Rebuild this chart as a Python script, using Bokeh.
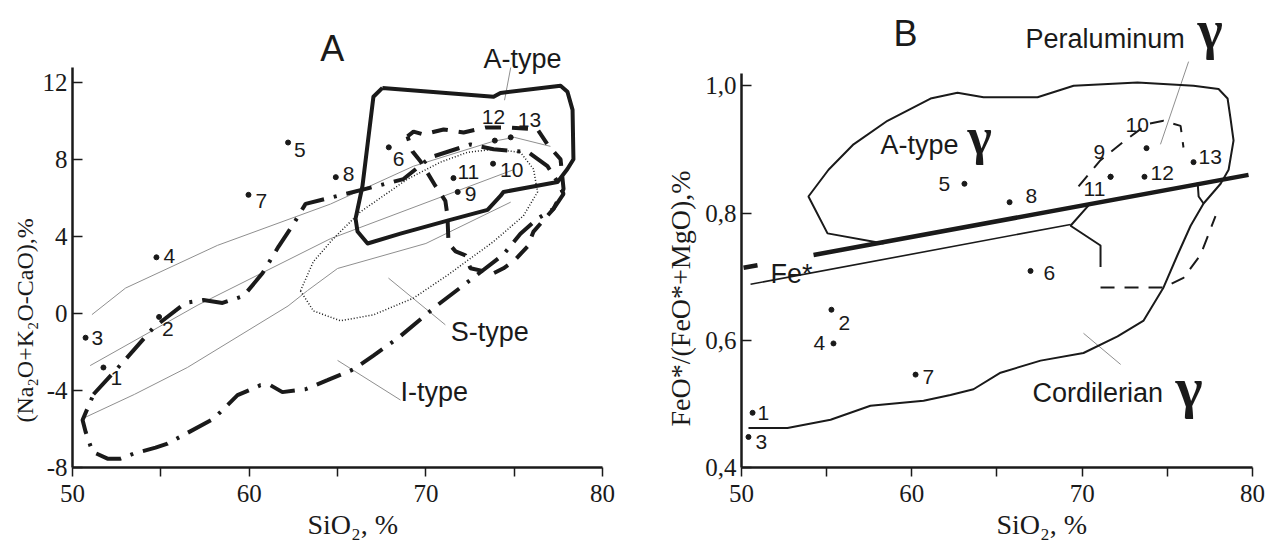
from bokeh.plotting import figure
from bokeh.models import Range1d, FixedTicker, CustomJSTickFormatter, Title
from bokeh.layouts import row
from bokeh.embed import file_html
from bokeh.resources import INLINE
from bokeh.core.properties import value

NAN = float("nan")
INK = "#1a1a1a"
GREY = "#8f8f8f"
SERIF = "Liberation Serif"
SANS = "Liberation Sans"

# ---------------- Panel A data: SiO2 vs (Na2O+K2O-CaO) ----------------
a_id = [str(i) for i in range(1, 14)]
a_sio2 = [51.75, 54.9, 50.74, 54.75, 62.2, 67.9, 59.96, 64.9, 71.8, 73.8, 71.56, 73.9, 74.8]
a_alk = [-2.8, -0.17, -1.25, 2.93, 8.9, 8.65, 6.18, 7.1, 6.33, 7.8, 7.05, 9.0, 9.17]
a_dx = [7, 3, 6, 7, 6, 4, 7, 7, 7, 7, 4, -13, 7]
a_dy = [10, 12, 0, -1, 7, 12, 6, -3, 2, 6, -6, -24, -17]

# A-type field (thick solid)
atype_x = [67.54, 73.83, 74.22, 77.62, 78.01, 78.3, 78.35, 78.01, 77.45, 74.39, 74.22, 73.49,
           71.22, 68.56, 66.7, 66.13, 66.02, 66.41, 67.03, 67.54]
atype_y = [11.74, 11.28, 11.48, 11.85, 11.54, 10.6, 8.03, 7.52, 6.85, 6.33, 6.12, 5.40,
           4.84, 4.16, 3.65, 4.27, 4.94, 6.64, 11.28, 11.74]
# thick dashed field
dash_x = [68.96, 69.3, 69.86, 71.0, 72.13, 73.37, 74.79, 76.32, 76.88, 77.62, 77.79, 77.22, 76.6,
          76.09, 75.75, 74.96, 74.39, 73.83, 72.52, 72.24, 71.68, 71.28, 71.22, 71.1, 70.54,
          69.69, 69.24, 68.96]
dash_y = [9.22, 9.47, 9.32, 9.58, 9.42, 9.68, 9.68, 9.58, 8.8, 8.03, 6.48, 5.45, 4.8,
          4.27, 3.49, 2.72, 2.36, 2.1, 2.36, 3.03, 3.24, 3.65, 5.09, 5.87, 6.64,
          7.93, 8.44, 9.22]
# I-type field (thick dash-dot)
itype_x = [51.19, 53.0, 54.58, 56.39, 57.41, 58.49, 59.68, 60.75, 61.66, 62.45, 63.19, 67.03,
           68.73, 70.26, 72.52, 73.83, 75.81, 76.88, 77.45, 77.79, 77.22, 76.32, 75.35, 74.39,
           72.13, 70.66, 68.45, 67.03, 65.9, 64.43, 63.19, 61.88, 61.2, 60.64, 59.34, 57.98,
           55.38, 54.7, 53.45, 52.72, 51.98, 51.13, 50.74, 50.57, 51.19]
itype_y = [-4.19, -2.38, -0.73, 0.56, 0.71, 0.56, 0.92, 2.1, 3.49, 4.58, 5.71, 6.59,
           7.0, 8.13, 8.8, 8.55, 8.39, 7.67, 6.85, 6.23, 5.45, 4.94, 4.16, 3.08,
           1.48, 0.45, -1.25, -2.18, -2.9, -3.46, -3.93, -4.08, -3.72, -3.72, -4.24, -5.47,
           -6.76, -6.97, -7.28, -7.54, -7.54, -7.18, -6.14, -5.53, -4.19]
# S-type field (dotted)
stype_x = [62.9, 63.64, 65.17, 67.03, 69.3, 71.22, 73.83, 75.52, 76.32, 76.09, 75.35, 73.83,
           72.35, 70.83, 68.96, 66.3, 64.77, 63.64, 62.9]
stype_y = [1.18, 0.14, -0.37, -0.06, 0.81, 2.0, 3.75, 5.09, 6.33, 7.52, 8.39, 8.55,
           8.39, 7.88, 7.0, 5.3, 3.91, 2.72, 1.18]
# thin grey trend lines
g1_x = [51.1, 53.0, 58.2, 64.6, 69.3, 73.8, 75.0, 77.05]
g1_y = [-0.05, 1.33, 3.55, 5.7, 7.67, 8.96, 9.17, 8.7]
g2_x = [51.0, 57.1, 64.6, 75.0]
g2_y = [-2.7, 0.45, 3.9, 7.5]
g3_x = [50.7, 53.5, 56.5, 62.2, 63.3, 65.0, 70.0, 74.8]
g3_y = [-5.4, -4.2, -2.8, 0.4, 1.2, 2.35, 3.65, 5.8]
# leader lines
a_lead_xs = [[74.8, 74.45], [67.88, 71.1], [65.0, 68.56]]
a_lead_ys = [[12.8, 11.1], [1.85, -0.58], [-2.43, -4.49]]
a_names = ["A-type", "S-type", "I-type"]
a_names_x = [73.26, 71.4, 68.56]
a_names_y = [13.24, -0.94, -4.08]

# ---------------- Panel B data: SiO2 vs FeO*/(FeO*+MgO) ----------------
b_id = [str(i) for i in range(1, 14)]
b_sio2 = [50.65, 55.28, 50.41, 55.4, 63.09, 66.97, 60.22, 65.74, 71.67, 73.78, 71.67, 73.66, 76.54]
b_fe = [0.486, 0.648, 0.448, 0.595, 0.846, 0.709, 0.546, 0.817, 0.857, 0.902, 0.857, 0.857, 0.88]
b_dx = [5, 7, 7, -20, -26, 13, 7, 16, -17, -21, -27, 6, 5]
b_dy = [0, 13, 5, 0, 0, 2, 2, -6, -25, -23, 12, -4, -5]

outline_x = [50.41, 52.7, 55.23, 57.57, 60.69, 62.27, 63.62, 65.21, 67.56, 70.08, 72.08, 73.61,
             74.78, 75.6, 76.37, 77.13, 78.13, 78.6, 78.89, 78.71, 78.54, 78.01, 76.54, 73.25,
             69.5, 67.38, 64.21, 62.68, 61.1, 58.57, 56.58, 55.11, 53.93, 55.05, 58.34]
outline_y = [0.462, 0.462, 0.475, 0.497, 0.505, 0.514, 0.523, 0.549, 0.568, 0.58, 0.606, 0.631,
             0.683, 0.734, 0.78, 0.815, 0.846, 0.868, 0.914, 0.949, 0.98, 0.995, 1.0, 1.005,
             1.0, 0.982, 0.982, 0.989, 0.98, 0.945, 0.908, 0.868, 0.826, 0.768, 0.752]
fe_thick_x = [50.12, 50.94, NAN, 54.23, 79.77]
fe_thick_y = [0.714, 0.718, NAN, 0.734, 0.86]
fe_thin_x = [50.53, 69.32]
fe_thin_y = [0.688, 0.782]
inner_xs = [[70.38, 69.32, 71.08, 71.08], [76.78, 76.84, 77.13]]
inner_ys = [[0.812, 0.78, 0.749, 0.715], [0.848, 0.826, 0.815]]
per_dash_xs = [[71.08, 74.78, 75.95, 76.95, 77.83], [69.79, 71.08, 72.37, 73.84, 74.78, 75.78, 75.95]]
per_dash_ys = [[0.683, 0.683, 0.698, 0.734, 0.795], [0.842, 0.883, 0.911, 0.94, 0.945, 0.937, 0.903]]
b_lead_xs = [[76.25, 74.6], [70.08, 72.26]]
b_lead_ys = [[1.038, 0.908], [0.611, 0.562]]
b_names = ["A-type", "Peraluminum", "Cordilerian", "Fe*"]
b_names_x = [58.16, 66.68, 67.09, 51.7]
b_names_y = [0.907, 1.0735, 0.517, 0.704]
gamma_x = [63.27, 76.78, 75.48]
gamma_y = [0.92, 1.088, 0.525]
gamma_size = ["52px", "54px", "58px"]


def style(p, xbounds, ybounds, yticks, yfmt):
    p.title.visible = False
    p.xgrid.visible = False
    p.ygrid.visible = False
    p.outline_line_color = None
    p.background_fill_color = "white"
    p.border_fill_color = "white"
    xa = p.xaxis[0]
    xa.ticker = FixedTicker(ticks=[50, 55, 60, 65, 70, 75, 80])
    xa.formatter = CustomJSTickFormatter(code="return (Math.round(tick) % 10 == 0) ? tick.toFixed(0) : '';")
    xa.bounds = xbounds
    xa.major_tick_in = 0
    xa.major_tick_out = 9
    xa.minor_tick_line_color = None
    ya = p.yaxis[0]
    ya.ticker = FixedTicker(ticks=yticks)
    ya.formatter = CustomJSTickFormatter(code=yfmt)
    ya.bounds = ybounds
    ya.major_tick_in = 10
    ya.major_tick_out = 0
    ya.minor_tick_line_color = None
    for ax in (xa, ya):
        ax.axis_line_width = 2.5
        ax.axis_line_color = INK
        ax.major_tick_line_width = 1.5
        ax.major_tick_line_color = INK
        ax.major_label_text_font = SERIF
        ax.major_label_text_font_size = "25px"
        ax.major_label_text_color = INK
    xa.major_label_standoff = 8
    ya.major_label_standoff = 5


def axis_title(p, text, side, offset, standoff, size="28px"):
    p.add_layout(Title(text=text, align="left", offset=offset, standoff=standoff,
                       text_font=SERIF, text_font_size=size, text_font_style="normal",
                       text_color=INK), side)


# ---------------- Panel A ----------------
pa = figure(width=620, height=541, x_range=Range1d(50, 80.73), y_range=Range1d(-8, 15.87),
            output_backend="svg", toolbar_location=None,
            min_border_left=72, min_border_right=5, min_border_top=8, min_border_bottom=70)
style(pa, (50, 80), (-8, 12.8), [-8, -4, 0, 4, 8, 12], "return tick.toFixed(0);")

pa.line(g1_x, g1_y, line_color=GREY, line_width=1)
pa.line(g2_x, g2_y, line_color=GREY, line_width=1)
pa.line(g3_x, g3_y, line_color=GREY, line_width=1)
pa.multi_line(a_lead_xs, a_lead_ys, line_color=GREY, line_width=1)
pa.line(stype_x, stype_y, line_color=INK, line_width=1.5, line_dash="1 2")
pa.line(itype_x, itype_y, line_color=INK, line_width=4, line_dash="26 10 3 10")
pa.line(dash_x, dash_y, line_color=INK, line_width=4, line_dash="16 11")
pa.line(atype_x, atype_y, line_color=INK, line_width=4, line_join="round")
pa.scatter(a_sio2, a_alk, size=5, color=INK)
pa.text(a_sio2, a_alk, text=a_id, x_offset=a_dx, y_offset=a_dy, text_align="left",
        text_baseline="middle", text_font=value(SANS), text_font_size="21px", text_color=INK)
pa.text(a_names_x, a_names_y, text=a_names, text_align="left", text_baseline="middle",
        text_font=value(SANS), text_font_size="27px", text_color=INK)
pa.text([64.7], [13.8], text=["A"], text_align="center", text_baseline="middle",
        text_font=value(SANS), text_font_size="36px", text_color=INK)
axis_title(pa, "SiO\u2082, %", "below", 235, 4)
axis_title(pa, "(Na\u2082O+K\u2082O-CaO),%", "left", 45, 4, "24px")

# ---------------- Panel B ----------------
pb = figure(width=649, height=541, x_range=Range1d(50, 80.59), y_range=Range1d(0.4, 1.1215),
            output_backend="svg", toolbar_location=None,
            min_border_left=121, min_border_right=7, min_border_top=8, min_border_bottom=64)
style(pb, (50, 80), (0.4, 1.02), [0.4, 0.6, 0.8, 1.0], "return tick.toFixed(1).replace('.', ',');")

pb.multi_line(b_lead_xs, b_lead_ys, line_color=GREY, line_width=1)
pb.line(outline_x, outline_y, line_color=INK, line_width=2)
pb.line(fe_thin_x, fe_thin_y, line_color=INK, line_width=1.6)
pb.multi_line(inner_xs, inner_ys, line_color=INK, line_width=2)
pb.multi_line(per_dash_xs, per_dash_ys, line_color=INK, line_width=2, line_dash="14 10")
pb.line(fe_thick_x, fe_thick_y, line_color=INK, line_width=4.5)
pb.scatter(b_sio2, b_fe, size=5, color=INK)
pb.text(b_sio2, b_fe, text=b_id, x_offset=b_dx, y_offset=b_dy, text_align="left",
        text_baseline="middle", text_font=value(SANS), text_font_size="21px", text_color=INK)
pb.text(b_names_x, b_names_y, text=b_names, text_align="left", text_baseline="alphabetic",
        text_font=value(SANS), text_font_size="27px", text_color=INK)
pb.text(gamma_x, gamma_y, text=["\u03b3"] * 3, text_align="left", text_baseline="alphabetic",
        text_font=value(SERIF), text_font_size=gamma_size, text_font_style="bold", text_color=INK)
pb.text([59.63], [1.0815], text=["B"], text_align="center", text_baseline="middle",
        text_font=value(SANS), text_font_size="36px", text_color=INK)
axis_title(pb, "SiO\u2082, %", "below", 255, 4)
axis_title(pb, "FeO*/(FeO*+MgO),%", "left", 41, 14)

layout = row(pa, pb)
open("out.html", "w").write(file_html(layout, INLINE))
